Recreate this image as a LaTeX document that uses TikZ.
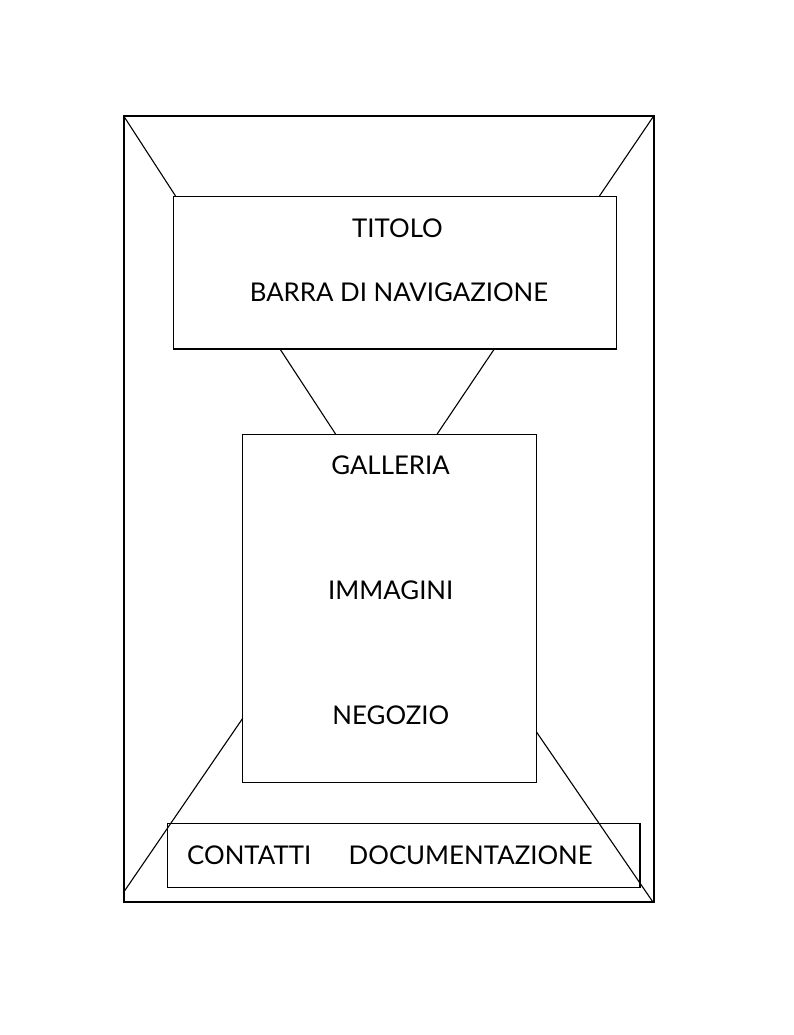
\documentclass[tikz,border=0pt]{standalone}
\usepackage{fontspec}
\setmainfont{Lato}
\begin{document}
\begin{tikzpicture}[x=1pt,y=-1pt,
  box/.style={draw=black,rectangle,inner sep=0pt,line width=1.1pt},
  outerbox/.style={draw=black,rectangle,inner sep=0pt,line width=2.4pt},
  link/.style={draw=black,line width=1.1pt},
  lbl/.style={inner sep=0pt,font=\fontsize{25.8}{31}\selectfont,text=black}]
\useasboundingbox (0,0) rectangle (793,1035);
\fill[white] (0,0) rectangle (793,1035);
% boxes
\node[outerbox,minimum width=530pt,minimum height=785.7pt] (outer) at (388.7,508.85) {};
\node[box,minimum width=443.4pt,minimum height=152.3pt] (top) at (395,272.85) {};
\node[box,minimum width=294pt,minimum height=347.6pt] (mid) at (389.7,608.5) {};
\node[box,minimum width=472.7pt,minimum height=64.4pt] (bot) at (403.65,855.5) {};
% connector end points
\coordinate (tl1) at (123.7,116);
\coordinate (tl2) at (176,196.7);
\coordinate (tr1) at (653.7,116);
\coordinate (tr2) at (599,196.7);
\coordinate (ml1) at (280,349);
\coordinate (ml2) at (336,434.7);
\coordinate (mr1) at (494.3,349);
\coordinate (mr2) at (436.7,434.7);
\coordinate (bl1) at (242.7,718.3);
\coordinate (bl2) at (123.3,892.7);
\coordinate (br1) at (536.7,732.3);
\coordinate (br2) at (652.7,901.7);
\draw[link] (tl1) -- (tl2);
\draw[link] (tr1) -- (tr2);
\draw[link] (ml1) -- (ml2);
\draw[link] (mr1) -- (mr2);
\draw[link] (bl1) -- (bl2);
\draw[link] (br1) -- (br2);
% labels
\node[lbl,anchor=base] (titolo) at (397.5,237.3) {TITOLO};
\node[lbl,anchor=base] (barra) at (399,301.7) {BARRA DI NAVIGAZIONE};
\node[lbl,anchor=base] (galleria) at (390.5,474.3) {GALLERIA};
\node[lbl,anchor=base] (immagini) at (390.8,599.3) {IMMAGINI};
\node[lbl,anchor=base] (negozio) at (390.8,724.3) {NEGOZIO};
\node[lbl,anchor=base west] (contatti) at (187,864) {CONTATTI};
\node[lbl,anchor=base west] (docu) at (348.5,864) {DOCUMENTAZIONE};
\end{tikzpicture}
\end{document}
